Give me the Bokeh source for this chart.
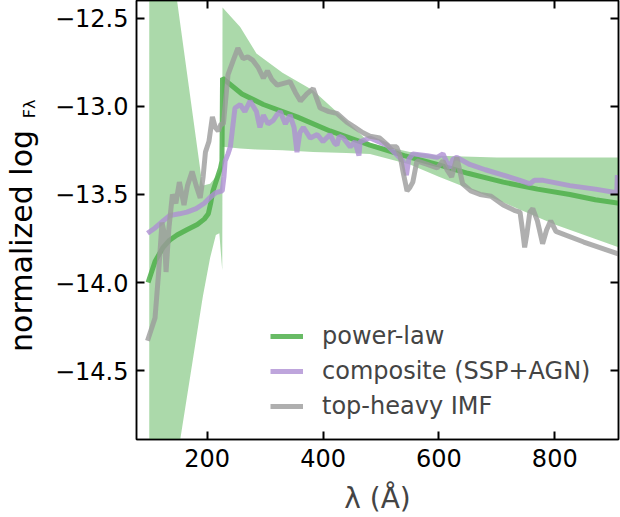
from bokeh.plotting import figure
from bokeh.models import Range1d, LinearAxis, Legend, LegendItem, FixedTicker
from bokeh.layouts import row
from bokeh.core.properties import value
from bokeh.embed import file_html
from bokeh.resources import INLINE

# ---------------- data ----------------
band_lam = [100, 148, 153, 191, 193, 205, 215, 221, 226, 226.5, 257, 285, 330, 383, 440, 481, 550, 600, 700, 800, 910]
band_hi = [-11.25, -12.40, -12.52, -13.43, -13.45, -13.44, -13.40, -13.37, -13.33, -12.44, -12.55, -12.70, -12.81,
           -12.91, -13.08, -13.21, -13.26, -13.28, -13.29, -13.29, -13.29]
band_lo = [-16.0, -15.00, -14.90, -14.11, -14.07, -13.86, -13.73, -13.72, -13.93, -13.23, -13.24, -13.245, -13.25,
           -13.26, -13.265, -13.27, -13.33, -13.40, -13.53, -13.67, -13.80]

pl_lam = [98, 110, 124, 135, 148, 165, 183, 195, 202, 206, 210, 215, 219, 223, 225.5, 226.5, 260, 297, 355, 412, 481,
          540, 597, 650, 711, 770, 826, 870, 912]
pl_val = [-14.00, -13.88, -13.80, -13.76, -13.73, -13.70, -13.67, -13.64, -13.61, -13.55, -13.48, -13.43, -13.39,
          -13.35, -13.31, -12.84, -12.93, -12.99, -13.06, -13.14, -13.22, -13.28, -13.33, -13.38, -13.43, -13.47,
          -13.50, -13.53, -13.55]

comp_lam = [97, 110, 124, 135, 152, 165, 181, 195, 204, 215, 226, 229, 231, 236, 240, 244, 248, 257, 265, 274, 285,
            291, 297, 305, 314, 320, 326, 335, 343, 350, 355, 360, 366, 378, 390, 400, 412, 420, 424, 428, 435, 447,
            455, 462, 464, 481, 510, 538, 544, 548, 555, 580, 597, 607, 614, 619, 624, 631, 653, 680, 711, 740, 757,
            765, 780, 826, 870, 907, 908]
comp_val = [-13.72, -13.69, -13.65, -13.62, -13.61, -13.60, -13.58, -13.55, -13.52, -13.49, -13.48, -13.40, -13.31,
            -13.27, -13.23, -13.12, -13.01, -12.99, -13.03, -12.97, -13.03, -13.12, -13.05, -13.10, -13.08, -13.05,
            -13.03, -13.10, -13.05, -13.12, -13.26, -13.15, -13.12, -13.18, -13.16, -13.20, -13.16, -13.21, -13.22,
            -13.17, -13.18, -13.23, -13.20, -13.28, -13.20, -13.18, -13.22, -13.31, -13.39, -13.30, -13.27, -13.28,
            -13.29, -13.27, -13.32, -13.35, -13.30, -13.29, -13.33, -13.36, -13.39, -13.42, -13.44, -13.42, -13.42,
            -13.45, -13.47, -13.49, -13.39]

imf_lam = [97, 105, 110, 116, 122, 126, 129, 134, 140, 146, 152, 160, 166, 174, 181, 188, 193, 197, 203, 209, 214,
           219, 224, 228, 236, 245, 253, 262, 270, 279, 288, 297, 304, 312, 321, 332, 343, 352, 361, 372, 383, 395,
           410, 424, 441, 455, 469, 481, 498, 515, 527, 533, 538, 545, 550, 555, 562, 580, 597, 607, 614, 622, 631,
           641, 655, 671, 690, 711, 730, 740, 745, 748, 752, 757, 762, 770, 779, 786, 793, 802, 850, 912]
imf_val = [-14.33, -14.25, -14.20, -13.95, -13.66, -13.72, -13.94, -13.69, -13.50, -13.55, -13.43, -13.56, -13.45,
           -13.37, -13.45, -13.52, -13.40, -13.26, -13.20, -13.06, -13.12, -13.14, -13.10, -13.10, -12.82, -12.74,
           -12.67, -12.73, -12.72, -12.74, -12.78, -12.84, -12.80, -12.85, -12.88, -12.87, -12.86, -12.92, -12.97,
           -12.93, -12.90, -13.01, -13.03, -13.04, -13.09, -13.12, -13.15, -13.17, -13.18, -13.23, -13.23, -13.28,
           -13.37, -13.48, -13.46, -13.43, -13.31, -13.33, -13.35, -13.31, -13.36, -13.40, -13.29, -13.44, -13.48,
           -13.50, -13.51, -13.56, -13.59, -13.60, -13.72, -13.80, -13.72, -13.60, -13.58, -13.65, -13.78, -13.70,
           -13.65, -13.71, -13.77, -13.84]

x_ticks = [200, 400, 600, 800]
y_ticks = [-14.5, -14.0, -13.5, -13.0, -12.5]
y_tick_labels = {-14.5: "\u221214.5", -14.0: "\u221214.0", -13.5: "\u221213.5", -13.0: "\u221213.0", -12.5: "\u221212.5"}
series_names = ["power-law", "composite (SSP+AGN)", "top-heavy IMF"]
y_label_main = "normalized log"
y_label_small = "F\u03bb"

FONT = "DejaVu Sans"
LAB_W = 48
H = 517
FRAME_TOP, FRAME_BOTTOM = 6, 442   # pixel rows of the main frame (label strip frame is aligned to it)

# ---------------- narrow figure holding the rotated y-axis label ----------------
lab = figure(width=LAB_W, height=H, output_backend="svg", toolbar_location=None,
             x_range=Range1d(0, LAB_W), y_range=Range1d(H - FRAME_BOTTOM, H - FRAME_TOP),
             x_axis_type=None, y_axis_type=None,
             min_border_left=0, min_border_right=0, min_border_top=0, min_border_bottom=0)
lab.grid.visible = False
lab.outline_line_color = None
lab.text(x=[21], y=[H - 355], text=[y_label_main], angle=1.5707963, text_font=value(FONT),
         text_font_size="30px", text_baseline="alphabetic", text_align="left", text_color="black")
lab.text(x=[29], y=[H - 123], text=[y_label_small], angle=1.5707963, text_font=value(FONT),
         text_font_size="16px", text_baseline="alphabetic", text_align="left", text_color="black")

# ---------------- main figure ----------------
p = figure(width=620 - LAB_W, height=H, output_backend="svg", toolbar_location=None,
           x_range=Range1d(78, 910), y_range=Range1d(-14.89, -12.40),
           min_border_left=136 - LAB_W, min_border_right=2, min_border_top=0, min_border_bottom=H - FRAME_BOTTOM)
p.grid.visible = False
p.background_fill_color = "white"
p.outline_line_color = "black"
p.outline_line_width = 1.5

bottom = p.below[0]
left = p.left[0]
bottom.ticker = FixedTicker(ticks=x_ticks)
left.ticker = FixedTicker(ticks=y_ticks)

green = "#4daf4a"
p.varea(x=band_lam, y1=band_lo, y2=band_hi, fill_color=green, fill_alpha=0.47)
r1 = p.line(pl_lam, pl_val, line_color=green, line_width=5, line_alpha=0.85)
r2 = p.line(comp_lam, comp_val, line_color="#ae8ed3", line_width=5, line_alpha=0.8)
r3 = p.line(imf_lam, imf_val, line_color="#9b9b9b", line_width=5, line_alpha=0.8)

top = LinearAxis(ticker=FixedTicker(ticks=x_ticks), major_label_text_alpha=0, major_label_text_font_size="0px")
right = LinearAxis(ticker=FixedTicker(ticks=y_ticks), major_label_text_alpha=0, major_label_text_font_size="0px")
p.add_layout(top, "above")
p.add_layout(right, "right")

for ax in [bottom, left, top, right]:
    ax.major_tick_in = 8
    ax.major_tick_out = 0
    ax.minor_tick_line_color = None
    ax.major_tick_line_width = 2
    ax.major_tick_line_color = "black"
    ax.axis_line_color = "black"
    ax.axis_line_width = 1.5
    ax.major_label_text_font = FONT
    ax.major_label_text_color = "black"

top.major_label_standoff = 0
right.major_label_standoff = 0

bottom.major_label_text_font_size = "24px"
left.major_label_text_font_size = "24px"
bottom.major_label_standoff = 9
left.major_label_standoff = 8
left.major_label_overrides = y_tick_labels

bottom.axis_label = "\u03bb (\u00c5)"
bottom.axis_label_text_font = FONT
bottom.axis_label_text_font_size = "28px"
bottom.axis_label_text_font_style = "normal"
bottom.axis_label_standoff = 12

legend = Legend(items=[LegendItem(label=series_names[0], renderers=[r1]),
                       LegendItem(label=series_names[1], renderers=[r2]),
                       LegendItem(label=series_names[2], renderers=[r3])],
                location=(134, 19), label_text_font=FONT, label_text_font_size="24px",
                glyph_width=33, label_standoff=19, spacing=7, padding=0, margin=0,
                border_line_alpha=0, background_fill_alpha=0)
p.add_layout(legend, "center")

layout = row(lab, p, spacing=0)
open("out.html", "w").write(file_html(layout, INLINE))
